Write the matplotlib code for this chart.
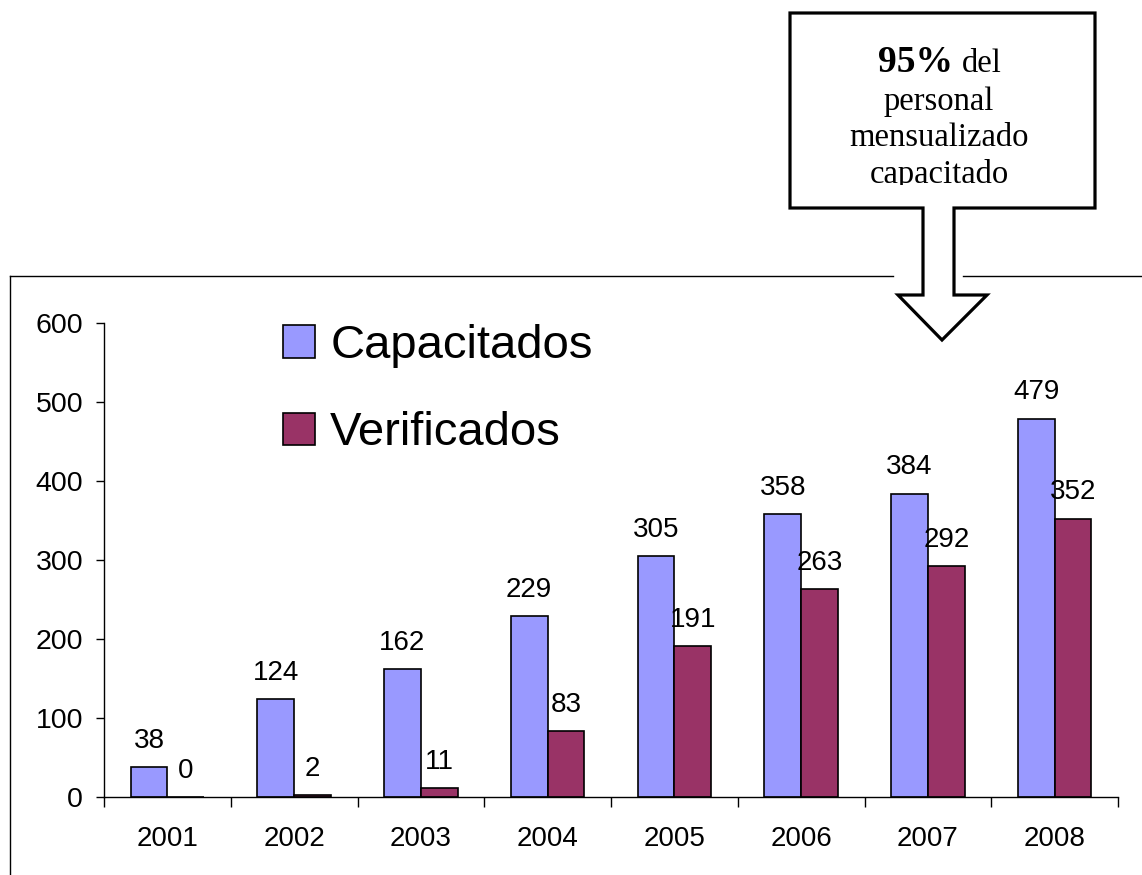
import numpy as np
import matplotlib
matplotlib.use("Agg")
import matplotlib.pyplot as plt
from matplotlib.patches import Polygon
from matplotlib.lines import Line2D
from matplotlib.transforms import Bbox

#### data
years = ['2001', '2002', '2003', '2004', '2005', '2006', '2007', '2008']
capacitados = [38, 124, 162, 229, 305, 358, 384, 479]
verificados = [0, 2, 11, 83, 191, 263, 292, 352]
series_names = ['Capacitados', 'Verificados']
series_colors = ['#9999FF', '#993366']
callout_lines = ['personal', 'mensualizado', 'capacitado']

W, H = 1142, 875
plt.rcParams['font.family'] = ['Liberation Sans', 'DejaVu Sans']

fig = plt.figure(figsize=(W / 100, H / 100), dpi=100)
fig.patch.set_facecolor('white')

def px(x, y):
    """ pixel position (y from top) to figure fraction """
    return x / W, 1 - y / H

#### outer frame of the chart area (left + top, broken by the callout)
for xs, ys in [((10, 10), (276, H)), ((10, 893), (276, 276)), ((963, W), (276, 276))]:
    p0 = px(xs[0], ys[0])
    p1 = px(xs[1], ys[1])
    fig.add_artist(Line2D([p0[0], p1[0]], [p0[1], p1[1]], color='black', lw=1.0,
                          transform=fig.transFigure))

#### axes
l, b = px(104, 797)
r, t = px(1118, 323)
ax = fig.add_axes([l, b, r - l, t - b])
x = np.arange(len(years))
width = 0.29
bars1 = ax.bar(x - width / 2, capacitados, width, color=series_colors[0], edgecolor='black',
               linewidth=1.2, label=series_names[0])
bars2 = ax.bar(x + width / 2, verificados, width, color=series_colors[1], edgecolor='black',
               linewidth=1.2, label=series_names[1])

for bars, vals in [(bars1, capacitados), (bars2, verificados)]:
    for bar, v in zip(bars, vals):
        ax.annotate(str(v), (bar.get_x() + bar.get_width() / 2, v), xytext=(0, 14),
                    textcoords='offset points', ha='center', va='baseline', fontsize=20)

ax.set_xlim(-0.5, len(years) - 0.5)
ax.set_ylim(0, 600)
ax.set_yticks(np.arange(0, 601, 100))
ax.tick_params(axis='y', labelsize=20.5, length=6, width=1, pad=9)
ax.set_xticks(np.arange(len(years) + 1) - 0.5)
ax.set_xticklabels([])
ax.set_xticks(x, minor=True)
ax.set_xticklabels(years, minor=True)
ax.tick_params(axis='x', which='major', length=7, width=1)
ax.tick_params(axis='x', which='minor', length=0, labelsize=20, pad=21)
for s in ['top', 'right']:
    ax.spines[s].set_visible(False)
for s in ['left', 'bottom']:
    ax.spines[s].set_linewidth(1)

leg = ax.legend(loc='upper left', bbox_to_anchor=px(283, 324), bbox_transform=fig.transFigure,
                frameon=False, fontsize=34, handlelength=0.68, handleheight=0.68,
                handletextpad=0.32, labelspacing=0.92, borderpad=0, borderaxespad=0)

#### callout with the arrow pointing at 2008
shape = [(790, 13), (1095, 13), (1095, 208), (954, 208), (954, 295), (987, 295), (942, 340),
         (898, 295), (923, 295), (923, 208), (790, 208)]
callout = Polygon([px(a, c) for a, c in shape], closed=True, facecolor='white', edgecolor='black',
                  lw=2.3, transform=fig.transFigure, joinstyle='miter')
fig.add_artist(callout)

serif = ['Liberation Serif', 'DejaVu Serif']
fig.text(*px(953, 72), '95%', ha='right', va='baseline', fontsize=27, fontweight='bold', family=serif)
fig.text(*px(962, 72), 'del', ha='left', va='baseline', fontsize=23.5, family=serif)
clip = Bbox.from_extents(790, H - 185, 1095, H - 13)
for i, line in enumerate(callout_lines):
    tx = fig.text(*px(939, 110 + 36.5 * i), line, ha='center', va='baseline', fontsize=23.5,
                  family=serif)
    tx.set_clip_box(clip)
    tx.set_clip_on(True)

fig.savefig('out.png', dpi=100)
